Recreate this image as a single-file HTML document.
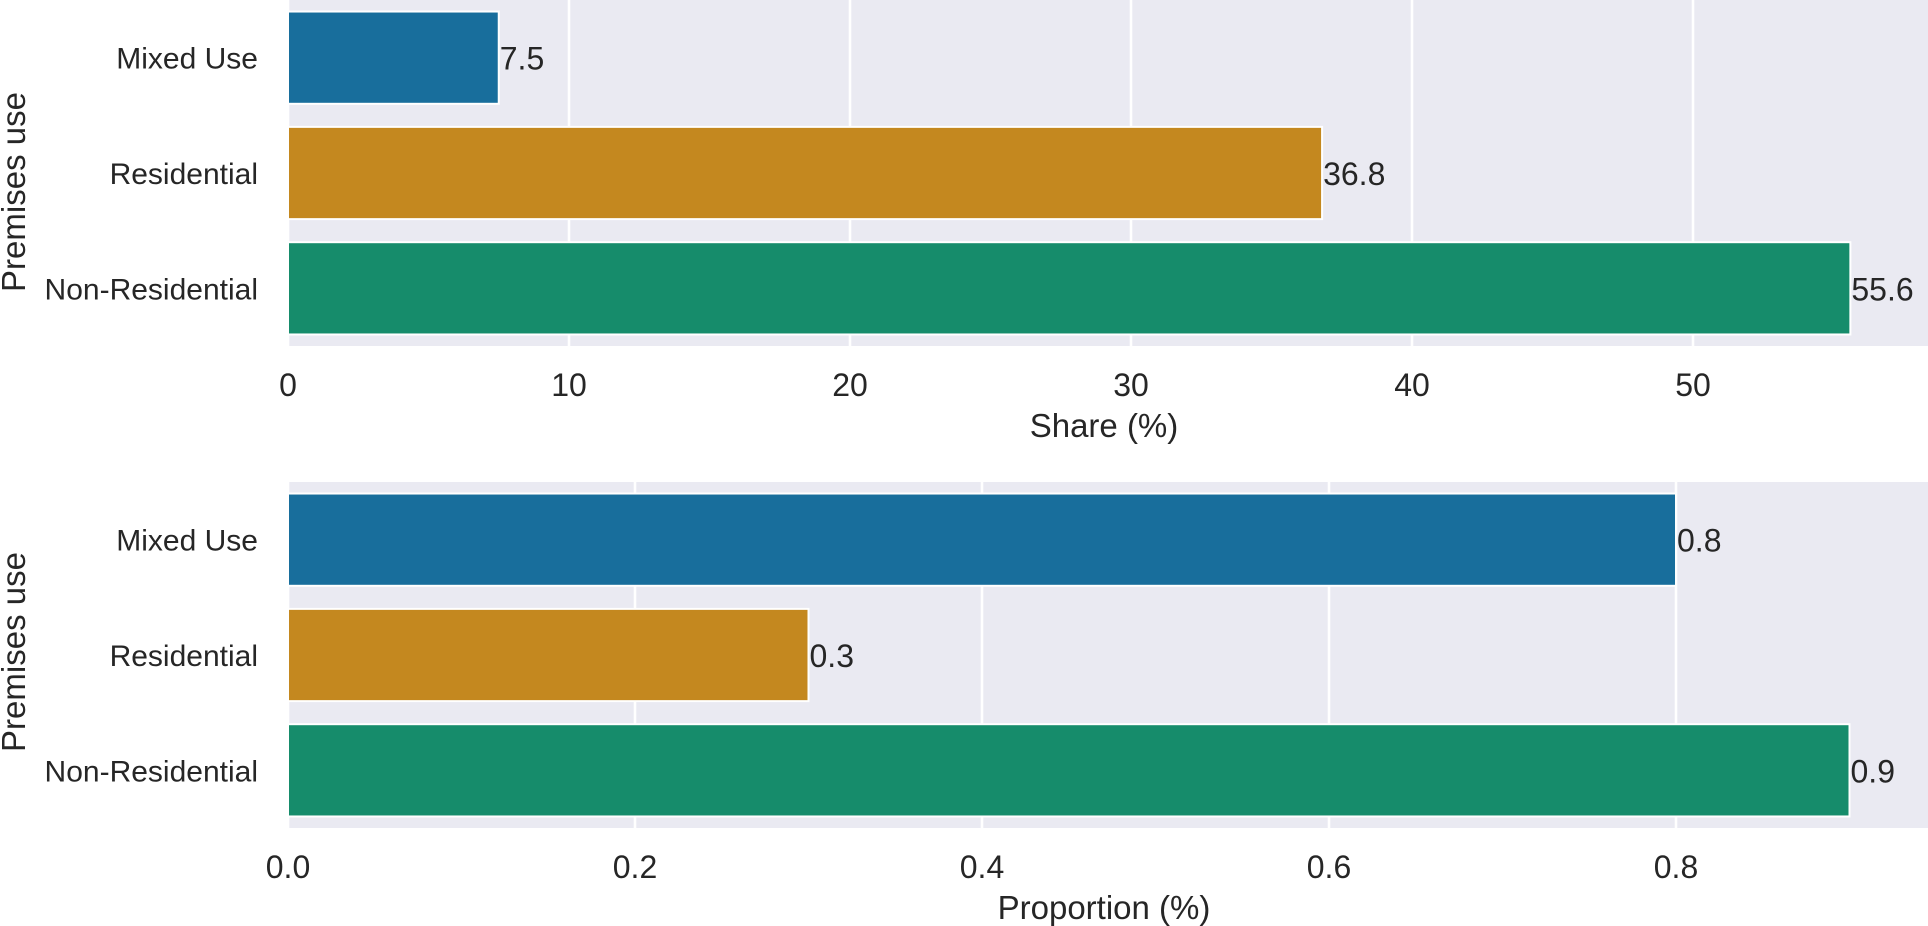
<!DOCTYPE html>
<html><head><meta charset="utf-8"><style>
html,body{margin:0;padding:0;background:#fff;}
svg{display:block;font-family:"Liberation Sans",Arial,sans-serif;}
</style></head><body>
<svg id="chart" width="1928" height="926" viewBox="0 0 1928 926" xmlns="http://www.w3.org/2000/svg"></svg>
<script>
const categories = ["Mixed Use", "Residential", "Non-Residential"];
const shareValues = [7.5, 36.8, 55.6];
const shareTicks = [0, 10, 20, 30, 40, 50];
const shareTickLabels = ["0", "10", "20", "30", "40", "50"];
const propValues = [0.8, 0.3, 0.9];
const propTicks = [0, 0.2, 0.4, 0.6, 0.8];
const propTickLabels = ["0.0", "0.2", "0.4", "0.6", "0.8"];
const colors = ["#186e9c", "#c4881f", "#168c6b"];

const svg = document.getElementById('chart');
const NS = "http://www.w3.org/2000/svg";
function mk(tag, attrs, parent){
  const e = document.createElementNS(NS, tag);
  for (const k in attrs) e.setAttribute(k, attrs[k]);
  (parent||svg).appendChild(e);
  return e;
}
function panel(cfg){
  const g = mk('g', {});
  
  
  const L = 288, R = 1928, T = cfg.top, B = cfg.bottom;
  const x = v => L + v * cfg.pxPerUnit;
  const band = (B - T) / categories.length;
  const yc = i => T + band * (i + 0.5);
  const bg = mk('rect', {x:L, y:T, width:R-L, height:B-T, fill:"#eaeaf2"}, g);
  
  
  cfg.ticks.forEach((t, i) => {
    const gl = mk('line', {x1:x(t), x2:x(t), y1:T, y2:B, stroke:"#fff", "stroke-width":2.5}, g);
    
    
    const tl = mk('text', {x:x(t), y:cfg.tickBase, "text-anchor":"middle", "font-size":32, fill:"#262626"}, g);
    
    
    tl.textContent = cfg.tickLabels[i];
  });
  categories.forEach((c, i) => {
    const h = band * 0.8;
    const bar = mk('rect', {x:x(0), y:yc(i)-h/2, width:x(cfg.values[i])-x(0), height:h, fill:colors[i], stroke:"#fff", "stroke-width":2}, g);
    
    
    const vl = mk('text', {x:x(cfg.values[i])+1, y:yc(i)+12, "font-size":32, fill:"#262626"}, g);
    
    
    vl.textContent = cfg.values[i].toFixed(1);
    const yl = mk('text', {x:258, y:yc(i)+11, "text-anchor":"end", "font-size":30, fill:"#262626"}, g);
    
    
    yl.textContent = c;
  });
  const xt = mk('text', {x:(L+1920)/2, y:cfg.xTitleBase, "text-anchor":"middle", "font-size":33, fill:"#262626"}, g);
  
  
  xt.textContent = cfg.xTitle;
  const yt = mk('text', {x:0, y:0, "text-anchor":"middle", "font-size":33, fill:"#262626", transform:`translate(25,${cfg.yTitleCenter}) rotate(-90)`}, g);
  
  
  yt.textContent = "Premises use";
}
panel({name:'share-chart', top:0, bottom:346, pxPerUnit:28.1, values:shareValues, ticks:shareTicks, tickLabels:shareTickLabels, tickBase:396, xTitle:"Share (%)", xTitleBase:437, yTitleCenter:192});
panel({name:'proportion-chart', top:482, bottom:828, pxPerUnit:1735, values:propValues, ticks:propTicks, tickLabels:propTickLabels, tickBase:878, xTitle:"Proportion (%)", xTitleBase:919, yTitleCenter:652});
</script>
</body></html>
